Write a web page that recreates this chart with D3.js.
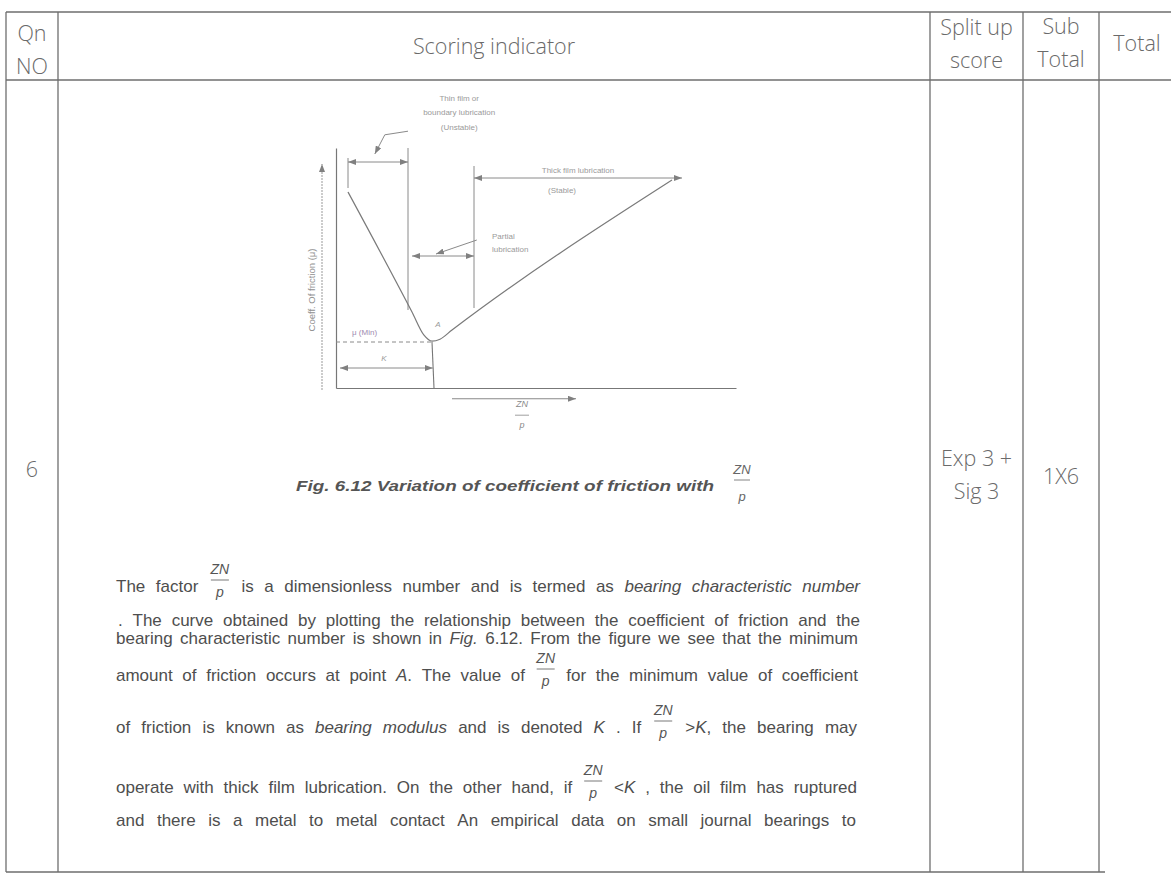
<!DOCTYPE html>
<html><head><meta charset="utf-8">
<script src="https://cdn.jsdelivr.net/npm/d3@7/dist/d3.min.js"></script>
<style>body{margin:0;background:#fff}svg{display:block}</style>
</head><body>
<svg id="c" width="1171" height="874"></svg>
<script>
// ---------------- data ----------------
const headerLabels = [["Qn","NO"],["Scoring indicator"],["Split up","score"],["Sub","Total"],["Total"]];
const bodyLabels   = [["6"],[],["Exp 3 +","Sig 3"],["1X6"],[]];

// friction curve: [ZN/p, mu]
const frictionCurve = [[0.3,4.9],[1.9,1.9],[2.2,1.32],[2.4,1.17],[2.6,1.22],[2.9,1.45],[8.4,5.2]];
// regime boundary lines: [x, muFrom, muTo]
const boundaries = [[0.3,5.0,5.75],[1.8,1.95,6.0],[3.45,2.0,5.55]];
// regime spans: [name, xFrom, xTo, mu]
const regimes = [["thin",0.3,1.8,5.65],["partial",1.9,3.45,3.3],["thick",3.45,8.65,5.25]];
const minPoint = [2.4, 1.15];      // point A (K, mu min)
const regimeLabels = {
  thin: ["Thin film or","boundary lubrication","(Unstable)"],
  thick: ["Thick film lubrication","(Stable)"],
  partial: ["Partial","lubrication"]
};
const axisLabelY = "Coeff. Of friction (μ)";
const caption = "Fig. 6.12 Variation of coefficient of friction with";
const paragraph = [
  "The factor {ZN/p} is a dimensionless number and is termed as *bearing* *characteristic* *number*",
  ". The curve obtained by plotting the relationship between the coefficient of friction and the",
  "bearing characteristic number is shown in *Fig.* 6.12. From the figure we see that the minimum",
  "amount of friction occurs at point *A*. The value of {ZN/p} for the minimum value of coefficient",
  "of friction is known as *bearing* *modulus* and is denoted *K* . If {ZN/p} >*K*, the bearing may",
  "operate with thick film lubrication. On the other hand, if {ZN/p} <*K* , the oil film has ruptured",
  "and there is a metal to metal contact An empirical data on small journal bearings to"
];

// ---------------- layout ----------------
const T = {cols:[6,58,930,1023,1099], right:1180, top:12, head:80, bottom:872, bottomEnd:1105};
const headCenters = [49,45,43,42,42];
const bodyCenters = [468,476,474,475,476];
const lineColor = "#6e6e6e";
const svg = d3.select("#c");
svg.append("rect").attr("width",1171).attr("height",874).attr("fill","#fff");

// table
const tg = svg.append("g").attr("stroke",lineColor).attr("stroke-width",1.3);
[T.top,T.head].forEach(y=>tg.append("line").attr("x1",T.cols[0]).attr("x2",T.right).attr("y1",y).attr("y2",y));
tg.append("line").attr("x1",T.cols[0]).attr("x2",T.bottomEnd).attr("y1",T.bottom).attr("y2",T.bottom);
T.cols.forEach(x=>tg.append("line").attr("x1",x).attr("x2",x).attr("y1",T.top).attr("y2",T.bottom));

const cellFont = "'Open Sans', Lato, sans-serif";
function cellText(labels, centers, lh){
  labels.forEach((lines,i)=>{
    if(!lines.length) return;
    const x0 = T.cols[i], x1 = i+1<T.cols.length ? T.cols[i+1] : 1175;
    const cx = (x0+x1)/2;
    lines.forEach((s,j)=>{
      svg.append("text").attr("x",cx).attr("y",centers[i] + (j-(lines.length-1)/2)*lh)
        .attr("text-anchor","middle").attr("dominant-baseline","central")
        .attr("font-family",cellFont).attr("font-size",21.5).attr("font-weight",300)
        .attr("fill","#6a6a6a").text(s);
    });
  });
}
cellText(headerLabels, headCenters, 33);
cellText(bodyLabels, bodyCenters, 33);

// ---------------- diagram ----------------
const x = d3.scaleLinear().domain([0,10]).range([336,736]);
const y = d3.scaleLinear().domain([0,6]).range([388,148]);
const dg = svg.append("g");
const defs = svg.append("defs");
defs.append("marker").attr("id","ah").attr("viewBox","0 0 8 6").attr("refX",8).attr("refY",3)
  .attr("markerWidth",8).attr("markerHeight",6).attr("markerUnits","userSpaceOnUse")
  .attr("orient","auto-start-reverse")
  .append("path").attr("d","M0,0L8,3L0,6Z").attr("fill","#808080");

const figStroke = "#8a8a8a";
const xAxis = dg.append("g").attr("transform",`translate(0,${y(0)})`)
  .call(d3.axisBottom(x).ticks(0).tickSizeOuter(0));
const yAxis = dg.append("g").attr("transform",`translate(${x(0)},0)`)
  .call(d3.axisLeft(y).ticks(0).tickSizeOuter(0));
[xAxis,yAxis].forEach(a=>a.select(".domain").attr("stroke","#777").attr("stroke-width",1.2));

// outer arrow for mu
dg.append("line").attr("x1",x(-0.35)).attr("x2",x(-0.35)).attr("y1",y(-0.05)).attr("y2",y(5.6))
  .attr("stroke","#999").attr("stroke-width",1).attr("stroke-dasharray","2,1").attr("marker-end","url(#ah)");
dg.append("text").attr("transform",`translate(${x(-0.62)},${y(2.45)}) rotate(-90)`)
  .attr("text-anchor","middle").attr("dominant-baseline","central")
  .attr("font-family","Liberation Sans, Arial, sans-serif").attr("font-size",9.5).attr("fill","#8f8f8f").text(axisLabelY);

boundaries.forEach(b=>dg.append("line").attr("x1",x(b[0])).attr("x2",x(b[0])).attr("y1",y(b[1])).attr("y2",y(b[2]))
  .attr("stroke",figStroke).attr("stroke-width",1));

regimes.forEach(r=>dg.append("line").attr("x1",x(r[1])).attr("x2",x(r[2])).attr("y1",y(r[3])).attr("y2",y(r[3]))
  .attr("stroke",figStroke).attr("stroke-width",1).attr("marker-start","url(#ah)").attr("marker-end","url(#ah)"));

dg.append("path").datum(frictionCurve)
  .attr("d",d3.line().x(d=>x(d[0])).y(d=>y(d[1])).curve(d3.curveMonotoneX))
  .attr("fill","none").attr("stroke","#7a7a7a").attr("stroke-width",1.2);

dg.append("line").attr("x1",x(0)).attr("x2",x(minPoint[0])).attr("y1",y(minPoint[1])).attr("y2",y(minPoint[1]))
  .attr("stroke","#8a8a8a").attr("stroke-dasharray","4,3");
dg.append("line").attr("x1",x(minPoint[0])).attr("x2",x(minPoint[0]+0.05)).attr("y1",y(minPoint[1])).attr("y2",y(0))
  .attr("stroke","#777").attr("stroke-width",1.1);
dg.append("line").attr("x1",x(0.1)).attr("x2",x(minPoint[0]+0.02)).attr("y1",y(0.5)).attr("y2",y(0.5))
  .attr("stroke",figStroke).attr("marker-start","url(#ah)").attr("marker-end","url(#ah)");

const smallFont = "Liberation Sans, Arial, sans-serif";
function small(t,px,py,anchor,col,sz,style){
  return dg.append("text").attr("x",px).attr("y",py).attr("text-anchor",anchor||"middle")
    .attr("dominant-baseline","central").attr("font-family",smallFont)
    .attr("font-size",sz||8).attr("fill",col||"#9a9a9a").attr("font-style",style||"normal").text(t);
}
small("μ (Min)", x(0.4), y(1.4), "start", "#a08ab0");
small("A", x(2.55), y(1.58), "middle", "#9a9a9a", 8, "italic");
small("K", x(1.2), y(0.75), "middle", "#9a9a9a", 8, "italic");

regimeLabels.thin.forEach((s,i)=>small(s, x(3.08), y(7.25 - i*0.37)));
dg.append("path").attr("d",d3.line()([[x(1.8),y(6.42)],[x(1.22),y(6.33)],[x(0.97),y(5.85)]]))
  .attr("fill","none").attr("stroke",figStroke).attr("marker-end","url(#ah)");
small(regimeLabels.thick[0], x(6.05), y(5.43));
small(regimeLabels.thick[1], x(5.65), y(4.95));
regimeLabels.partial.forEach((s,i)=>small(s, x(3.9), y(3.8 - i*0.33), "start"));
dg.append("line").attr("x1",x(3.52)).attr("y1",y(3.7)).attr("x2",x(2.5)).attr("y2",y(3.35))
  .attr("stroke",figStroke).attr("marker-end","url(#ah)");

dg.append("line").attr("x1",x(2.9)).attr("x2",x(6.0)).attr("y1",y(-0.27)).attr("y2",y(-0.27))
  .attr("stroke","#888").attr("stroke-width",1.1).attr("marker-end","url(#ah)");
function fraction(g, cx, yTop, yBar, yBot, sz, col, w, family){
  g.append("text").attr("x",cx).attr("y",yTop).attr("text-anchor","middle").attr("font-family",family)
    .attr("font-size",sz).attr("font-style","italic").attr("fill",col).text("ZN");
  g.append("line").attr("x1",cx-w/2).attr("x2",cx+w/2).attr("y1",yBar).attr("y2",yBar).attr("stroke",col).attr("stroke-width",0.8);
  g.append("text").attr("x",cx).attr("y",yBot).attr("text-anchor","middle").attr("font-family",family)
    .attr("font-size",sz).attr("font-style","italic").attr("fill",col).text("p");
}
fraction(dg, x(4.65), y(-0.47), y(-0.68), y(-1.0), 9, "#888", 14, smallFont);

// ---------------- caption ----------------
const paraFont = "'Liberation Sans', Arial, sans-serif";
svg.append("text").attr("x",296).attr("y",491).attr("font-family",paraFont)
  .attr("font-size",15).attr("font-weight","bold").attr("font-style","italic").attr("fill","#555")
  .attr("textLength",418).attr("lengthAdjust","spacingAndGlyphs").text(caption);
fraction(svg, 742, 474, 480, 501, 13, "#666", 16, paraFont);

// ---------------- paragraph ----------------
const baselines = [592, 626, 644, 681, 733, 793, 826];
const startX = [116,118,116,116,116,116,116];
const endX = [860,860,858,858,857,857,856];
const pg = svg.append("g").attr("font-family",paraFont).attr("font-size",17).attr("fill","#4e4e4e");
paragraph.forEach((line,li)=>{
  const tokens = line.split(" ");
  const items = tokens.map(tok=>{
    if(tok.startsWith("{")) return {frac:true, w:22};
    const t = pg.append("text").attr("y",baselines[li]);
    const parts = tok.split(/(\*[^*]+\*)/).filter(s=>s.length);
    parts.forEach(p=>{
      if(p.startsWith("*")) t.append("tspan").attr("font-style","italic").text(p.slice(1,-1));
      else t.append("tspan").text(p);
    });
    return {node:t, w:t.node().getComputedTextLength()};
  });
  const total = d3.sum(items,d=>d.w);
  const gap = Math.max(2,(endX[li]-startX[li]-total)/(items.length-1));
  let cx = startX[li];
  items.forEach(it=>{
    if(it.frac){
      fraction(pg, cx+it.w/2, baselines[li]-18, baselines[li]-12, baselines[li]+5, 14, "#555", 18, paraFont);
    } else it.node.attr("x",cx);
    cx += it.w + gap;
  });
});
</script>
</body></html>
